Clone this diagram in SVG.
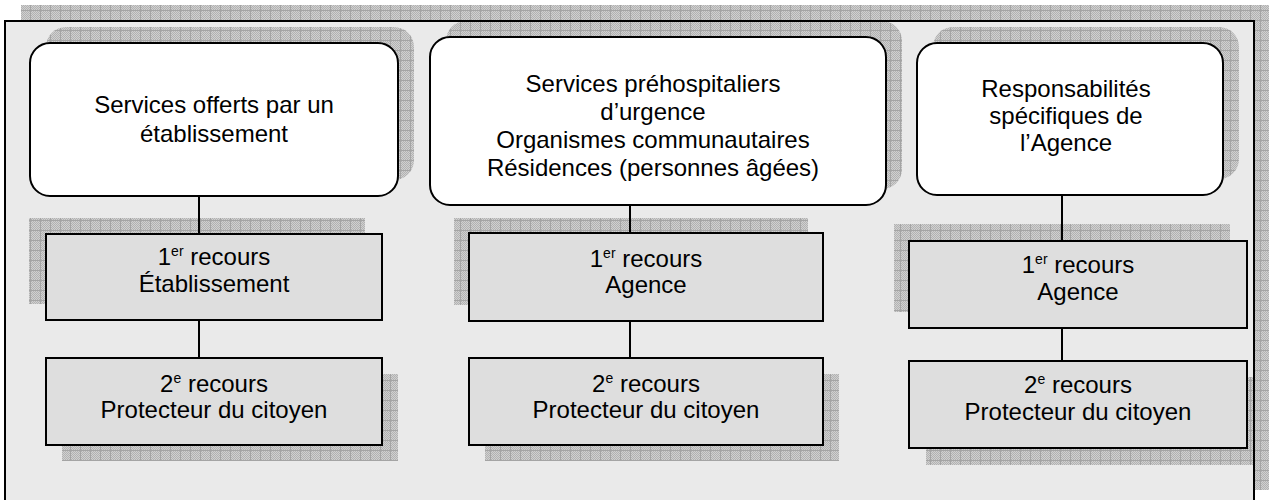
<svg xmlns="http://www.w3.org/2000/svg" width="1269" height="500" viewBox="0 0 1269 500">
<defs>
<pattern id="dots" width="2" height="2" patternUnits="userSpaceOnUse">
<rect width="2" height="2" fill="#d0d0d0"/>
<rect width="1" height="1" fill="#b2b2b2"/>
<rect x="1" y="1" width="1" height="1" fill="#b2b2b2"/>
</pattern>
<pattern id="shade" width="10" height="10" patternUnits="userSpaceOnUse">
<rect width="10" height="10" fill="url(#dots)"/>
<rect width="10" height="1" fill="#a4a4a4"/>
<rect width="1" height="10" fill="#a4a4a4"/>
</pattern>
<style>
.sh{fill:url(#shade);stroke:none}
.top{fill:#ffffff;stroke:#000;stroke-width:2}
.rec{fill:#dedede;stroke:#000;stroke-width:2}
.t{font-family:"Liberation Sans",Arial,sans-serif;font-size:24px;fill:#000;text-anchor:middle}
.sup{font-size:14px}
.ln{stroke:#000;stroke-width:2;fill:none}
</style>
</defs>
<g id="frame">
<rect class="sh" x="21" y="5" width="1250" height="485"/>
<rect x="5" y="21" width="1249" height="490" fill="#eaeaea"/>
</g>
<g id="node-top1">
<rect class="sh" x="46" y="27" width="368" height="153" rx="20"/>
<rect class="top" x="30" y="43" width="368" height="153" rx="20"/>
<text class="t" x="214" y="113">Services offerts par un</text>
<text class="t" x="214" y="142">établissement</text>
</g>
<g id="node-top2">
<rect class="sh" x="446" y="21" width="456" height="168" rx="20"/>
<rect class="top" x="430" y="37" width="456" height="168" rx="20"/>
<text class="t" x="653" y="92">Services préhospitaliers</text>
<text class="t" x="653" y="120">d’urgence</text>
<text class="t" x="653" y="148">Organismes communautaires</text>
<text class="t" x="653" y="176">Résidences (personnes âgées)</text>
</g>
<g id="node-top3">
<rect class="sh" x="933" y="27" width="306" height="152" rx="20"/>
<rect class="top" x="917" y="43" width="306" height="152" rx="20"/>
<text class="t" x="1066" y="97">Responsabilités</text>
<text class="t" x="1066" y="124">spécifiques de</text>
<text class="t" x="1066" y="151">l’Agence</text>
</g>
<g id="node-r1a">
<rect class="sh" x="29" y="218" width="336" height="86"/>
<rect class="rec" x="46" y="234" width="336" height="86"/>
<text class="t" x="214" y="265">1<tspan class="sup" dy="-9">er</tspan><tspan dy="9"> recours</tspan></text>
<text class="t" x="214" y="292">Établissement</text>
</g>
<g id="node-r1b">
<rect class="sh" x="62" y="374" width="336" height="87"/>
<rect class="rec" x="46" y="358" width="336" height="87"/>
<text class="t" x="214" y="392">2<tspan class="sup" dy="-9">e</tspan><tspan dy="9"> recours</tspan></text>
<text class="t" x="214" y="418">Protecteur du citoyen</text>
</g>
<g id="node-r2a">
<rect class="sh" x="454" y="218" width="354" height="87"/>
<rect class="rec" x="469" y="233" width="354" height="88"/>
<text class="t" x="646" y="267">1<tspan class="sup" dy="-9">er</tspan><tspan dy="9"> recours</tspan></text>
<text class="t" x="646" y="293">Agence</text>
</g>
<g id="node-r2b">
<rect class="sh" x="485" y="374" width="354" height="87"/>
<rect class="rec" x="469" y="358" width="354" height="87"/>
<text class="t" x="646" y="392">2<tspan class="sup" dy="-9">e</tspan><tspan dy="9"> recours</tspan></text>
<text class="t" x="646" y="418">Protecteur du citoyen</text>
</g>
<g id="node-r3a">
<rect class="sh" x="894" y="224" width="336" height="88"/>
<rect class="rec" x="909" y="241" width="338" height="87"/>
<text class="t" x="1078" y="273">1<tspan class="sup" dy="-9">er</tspan><tspan dy="9"> recours</tspan></text>
<text class="t" x="1078" y="300">Agence</text>
</g>
<g id="node-r3b">
<rect class="sh" x="926" y="377" width="336" height="88"/>
<rect class="rec" x="909" y="361" width="338" height="87"/>
<text class="t" x="1078" y="393">2<tspan class="sup" dy="-9">e</tspan><tspan dy="9"> recours</tspan></text>
<text class="t" x="1078" y="420">Protecteur du citoyen</text>
</g>
<g id="connectors">
<line class="ln" x1="199" y1="196" x2="199" y2="234"/>
<line class="ln" x1="199" y1="320" x2="199" y2="358"/>
<line class="ln" x1="630" y1="205" x2="630" y2="233"/>
<line class="ln" x1="630" y1="321" x2="630" y2="358"/>
<line class="ln" x1="1062" y1="195" x2="1062" y2="241"/>
<line class="ln" x1="1062" y1="328" x2="1062" y2="361"/>
</g>
<rect id="frame-border" x="5" y="21" width="1249" height="490" fill="none" stroke="#000" stroke-width="2"/>
</svg>
